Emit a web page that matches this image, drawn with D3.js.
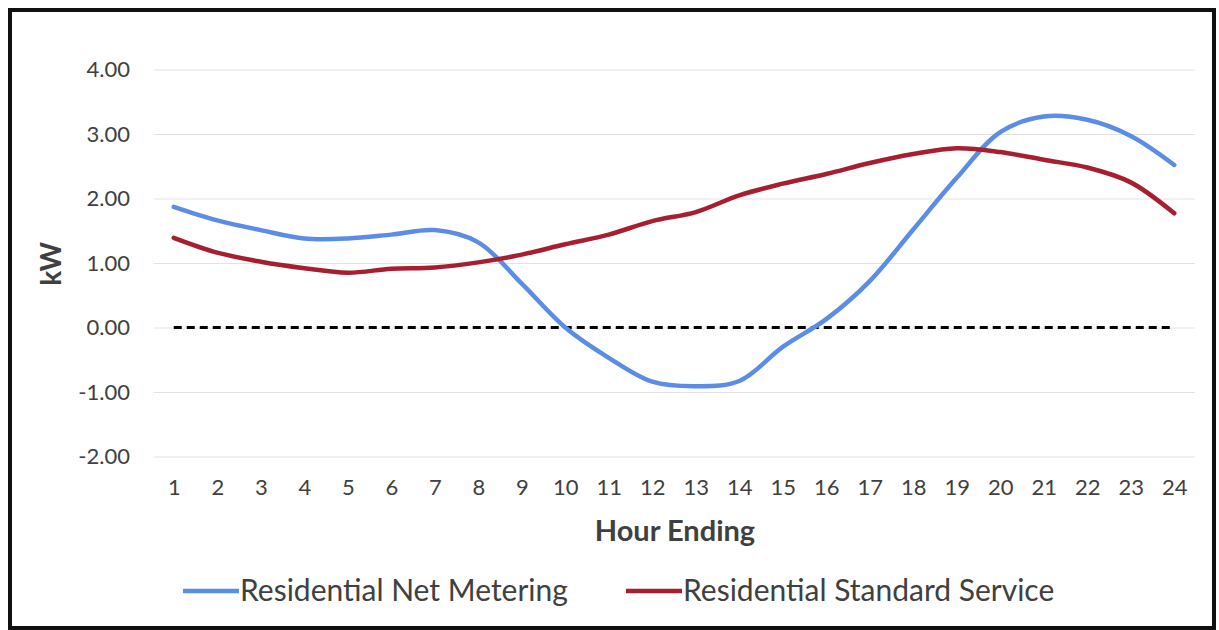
<!DOCTYPE html>
<html>
<head>
<meta charset="utf-8">
<script src="https://cdn.jsdelivr.net/npm/d3@7"></script>
<style>
  body { margin: 0; background: #fff; }
  text { font-family: Lato, "Open Sans", sans-serif; fill: #404040; }
</style>
</head>
<body>
<div id="chart"></div>
<script>
// hours on the x axis
const hours = [1,2,3,4,5,6,7,8,9,10,11,12,13,14,15,16,17,18,19,20,21,22,23,24];
// kW values
const netMetering = [1.87,1.66,1.51,1.38,1.38,1.44,1.51,1.32,0.68,0.00,-0.47,-0.84,-0.91,-0.83,-0.30,0.13,0.72,1.52,2.32,3.03,3.27,3.22,2.97,2.52];
const standardService = [1.39,1.16,1.02,0.92,0.85,0.91,0.93,1.01,1.13,1.29,1.44,1.65,1.79,2.05,2.23,2.38,2.55,2.69,2.78,2.72,2.60,2.48,2.25,1.77];
const zeroLine = [0,0,0,0,0,0,0,0,0,0,0,0,0,0,0,0,0,0,0,0,0,0,0,0];
const yTicks = [-2,-1,0,1,2,3,4];
const seriesNames = ["Residential Net Metering", "Residential Standard Service"];

function init() {
    let width = 1219, height = 630;
    let svg = d3.select("#chart").append("svg")
        .attr("width", width)
        .attr("height", height);

    svg.append("rect")
        .attr("width", width).attr("height", height)
        .attr("fill", "#fff");

    // frame round the chart
    svg.append("rect")
        .attr("x", 10).attr("y", 10)
        .attr("width", 1204).attr("height", 618)
        .attr("fill", "none")
        .attr("stroke", "#111")
        .attr("stroke-width", 4);

    let x = d3.scalePoint()
        .domain(hours)
        .range([152, 1196])
        .padding(0.5);
    let y = d3.scaleLinear()
        .domain([-2, 4])
        .range([456.5, 69.5]);

    // gridlines + y labels
    let yAxis = svg.append("g")
        .attr("transform", "translate(154,0)")
        .call(d3.axisLeft(y)
            .tickValues(yTicks)
            .tickSize(-1041)
            .tickPadding(24)
            .tickFormat(d => d.toFixed(2)));
    yAxis.select(".domain").remove();
    yAxis.selectAll("line").attr("stroke", "#e2e2e2").attr("stroke-width", 1);
    yAxis.selectAll("text")
        .style("font-size", "22px")
        .attr("fill", "#404040");

    // x labels
    let xAxis = svg.append("g")
        .attr("transform", "translate(0,456.5)")
        .call(d3.axisBottom(x).tickSize(0).tickPadding(23));
    xAxis.select(".domain").remove();
    xAxis.selectAll("text")
        .style("font-size", "22px")
        .attr("fill", "#404040");

    // axis titles
    svg.append("text")
        .attr("x", 675).attr("y", 541)
        .attr("text-anchor", "middle")
        .style("font-size", "29px")
        .style("font-weight", "bold")
        .text("Hour Ending");
    svg.append("text")
        .attr("transform", "translate(61,264) rotate(-90)")
        .attr("text-anchor", "middle")
        .style("font-size", "28px")
        .style("font-weight", "bold")
        .text("kW");

    let line = d3.line()
        .x((d, i) => x(hours[i]))
        .y(d => y(d))
        .curve(d3.curveCatmullRom.alpha(0.5));

    svg.append("path")
        .datum(zeroLine)
        .attr("d", d3.line().x((d, i) => x(hours[i])).y(d => y(d)))
        .attr("fill", "none")
        .attr("stroke", "#000")
        .attr("stroke-width", 3)
        .attr("stroke-dasharray", "8,5");

    let colors = ["#5b8de6", "#a61f30"];
    [netMetering, standardService].forEach((s, i) => {
        svg.append("path")
            .datum(s)
            .attr("d", line)
            .attr("fill", "none")
            .attr("stroke", colors[i])
            .attr("stroke-width", 4.5)
            .attr("stroke-linecap", "round");
    });

    // legend
    let legendX = [183, 626];
    seriesNames.forEach((name, i) => {
        let g = svg.append("g").attr("transform", "translate(" + legendX[i] + ",591)");
        g.append("line")
            .attr("x1", 0).attr("x2", 56)
            .attr("stroke", colors[i])
            .attr("stroke-width", 4.5);
        g.append("text")
            .attr("x", 57).attr("y", 10)
            .style("font-size", "30px")
            .text(name);
    });
}
window.onload = init;
</script>
</body>
</html>
